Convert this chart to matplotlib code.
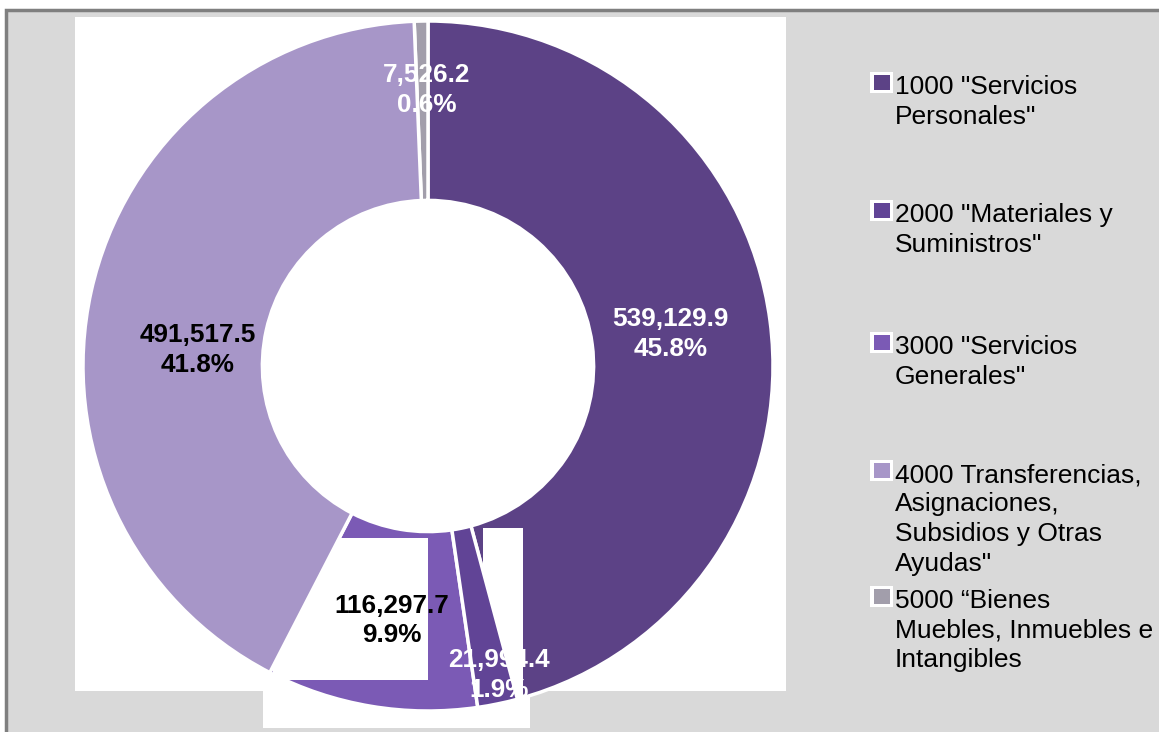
import numpy as np
import matplotlib
matplotlib.use("Agg")
import matplotlib.pyplot as plt
from matplotlib.patches import Rectangle

# data
categories = [
    '1000 "Servicios\nPersonales"',
    '2000 "Materiales y\nSuministros"',
    '3000 "Servicios\nGenerales"',
    '4000 Transferencias,\nAsignaciones,\nSubsidios y Otras\nAyudas"',
    '5000 \u201cBienes\nMuebles, Inmuebles e\nIntangibles',
]
values = [539129.9, 21994.4, 116297.7, 491517.5, 7526.2]

# styling / layout
COLORS = ["#5C4286", "#614496", "#7B5AB5", "#A796C8", "#A29EAB"]
LABEL_COLORS = ["white", "white", "black", "black", "white"]
LABEL_POLAR = [(0.71, 82.5), (0.92, 167), (0.745, 188), (0.67, 274), (0.80, 359.8)]
LEGEND_Y = [94, 222, 354, 482, 608]      # first-line baseline, px from top
LINE_PITCH = 29.5
W, H = 1159, 732
FONT = "Liberation Sans"


def fx(x):
    return x / W


def fy(y):
    return 1 - y / H


fig = plt.figure(figsize=(W / 100, H / 100), dpi=100)
fig.patch.set_facecolor("white")

# grey chart area with dark frame (left/top edges visible)
fig.add_artist(Rectangle((fx(6), -0.1), 1.0, fy(10) + 0.1, transform=fig.transFigure,
                         facecolor="#D9D9D9", edgecolor="#7F7F7F", lw=2.5, zorder=-2))
# white plot area + stray white label boxes at the bottom
for x0, y0, x1, y1 in [(75, 17, 786, 691), (263, 680, 490, 728), (490, 697, 530, 728)]:
    fig.add_artist(Rectangle((fx(x0), fy(y1)), fx(x1) - fx(x0), fy(y0) - fy(y1),
                             transform=fig.transFigure, facecolor="white",
                             edgecolor="none", zorder=-1))

ax = fig.add_axes([fx(83), fy(711), 690 / W, 690 / H])
ax.set_zorder(2)
ax.patch.set_alpha(0)
wedges, _ = ax.pie(values, colors=COLORS, startangle=90, counterclock=False,
                   radius=1.0,
                   wedgeprops=dict(width=0.52, edgecolor="white", linewidth=2.5))
ax.set_xlim(-1, 1); ax.set_ylim(-1, 1)
ax.set_aspect("equal"); ax.axis("off")


def to_data(x, y):
    return (x - 428) / 345, (366 - y) / 345


# stray white label boxes over the ring (Excel rendering leftovers)
for x0, y0, x1, y1 in [(483, 528, 523, 713), (273, 538, 428, 680)]:
    bx0, by0 = to_data(x0, y1)
    bx1, by1 = to_data(x1, y0)
    ax.add_patch(Rectangle((bx0, by0), bx1 - bx0, by1 - by0, facecolor="white",
                           edgecolor="none", zorder=2, clip_on=False))
wedges[1].set_zorder(3)
wedges[3].set_zorder(3)

total = sum(values)
for v, c, (r, a) in zip(values, LABEL_COLORS, LABEL_POLAR):
    th = np.deg2rad(a)
    ax.text(r * np.sin(th), r * np.cos(th), f"{v:,.1f}\n{v / total * 100:.1f}%",
            ha="center", va="center", color=c, fontsize=18.8, fontweight="bold",
            family=FONT, linespacing=1.3, zorder=5)

# legend drawn by hand to keep Excel's spacing
for name, col, y in zip(categories, COLORS, LEGEND_Y):
    fig.add_artist(Rectangle((fx(870), fy(y - 1)), 23 / W, 21 / H, transform=fig.transFigure,
                             facecolor="white", edgecolor="none", zorder=3))
    fig.add_artist(Rectangle((fx(873.5), fy(y - 4)), 16 / W, 15 / H, transform=fig.transFigure,
                             facecolor=col, edgecolor="none", zorder=4))
    for k, line in enumerate(name.split("\n")):
        fig.text(fx(895), fy(y + k * LINE_PITCH), line, ha="left", va="baseline",
                 fontsize=19, family=FONT, color="black")

fig.savefig("out.png", dpi=100)
